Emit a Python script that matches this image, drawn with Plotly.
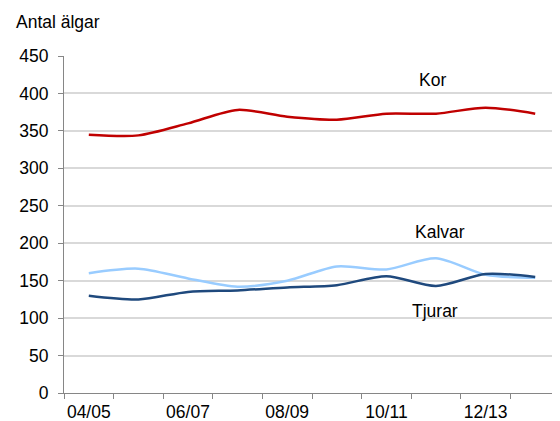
import plotly.graph_objects as go

categories = ["04/05", "05/06", "06/07", "07/08", "08/09", "09/10", "10/11", "11/12", "12/13", "13/14"]
kor = [345, 344, 360, 378, 369, 365, 373, 373, 381, 373]
kalvar = [160, 166, 153, 142, 150, 169, 165, 180, 158, 154]
tjurar = [130, 125, 135, 137, 141, 144, 156, 143, 159, 155]
yticks = [0, 50, 100, 150, 200, 250, 300, 350, 400, 450]

xi = list(range(len(categories)))
font = "Liberation Sans, Arial, sans-serif"
fs = 17.5

fig = go.Figure()
for name, vals, color in [("Kor", kor, "#C00000"), ("Kalvar", kalvar, "#99CCFF"), ("Tjurar", tjurar, "#1F497D")]:
    fig.add_trace(go.Scatter(x=xi, y=vals, mode="lines", name=name,
                             line=dict(color=color, width=2.5, shape="spline", smoothing=0.8),
                             hoverinfo="skip"))

# page body has an 8px default margin, so the figure is sized to fit the window
fig.update_layout(
    width=552, height=413,
    margin=dict(l=56, r=0, t=48, b=28, autoexpand=False),
    paper_bgcolor="white", plot_bgcolor="white",
    showlegend=False,
    font=dict(family=font, size=fs, color="#000000"),
    xaxis=dict(range=[-0.5, 9.5], tickmode="array", automargin=False,
               tickvals=xi[::2], ticktext=categories[::2],
               ticks="", showgrid=False, zeroline=False,
               showline=True, linecolor="#868686", linewidth=1,
               tickfont=dict(size=fs), ticklabelstandoff=3,
               minor=dict(tickmode="linear", tick0=-0.5, dtick=1, ticks="outside",
                          ticklen=5, tickcolor="#868686", showgrid=False)),
    yaxis=dict(range=[0, 450], tickmode="array", tickvals=yticks, automargin=False,
               ticks="outside", ticklen=5, tickcolor="#868686",
               showgrid=True, gridcolor="#D9D9D9", gridwidth=1.5,
               zeroline=False, showline=True, linecolor="#868686", linewidth=1,
               tickfont=dict(size=fs), ticklabelstandoff=6),
    annotations=[
        dict(text="Antal älgar", xref="paper", yref="paper", x=-50/496, y=1 + 34/337,
             xanchor="left", yanchor="middle", showarrow=False, font=dict(size=fs)),
        dict(text="Kor", x=6.92, y=418, xref="x", yref="y", showarrow=False, font=dict(size=fs)),
        dict(text="Kalvar", x=7.08, y=215, xref="x", yref="y", showarrow=False, font=dict(size=fs)),
        dict(text="Tjurar", x=6.98, y=109, xref="x", yref="y", showarrow=False, font=dict(size=fs)),
    ],
)

fig.write_html("out.html")
